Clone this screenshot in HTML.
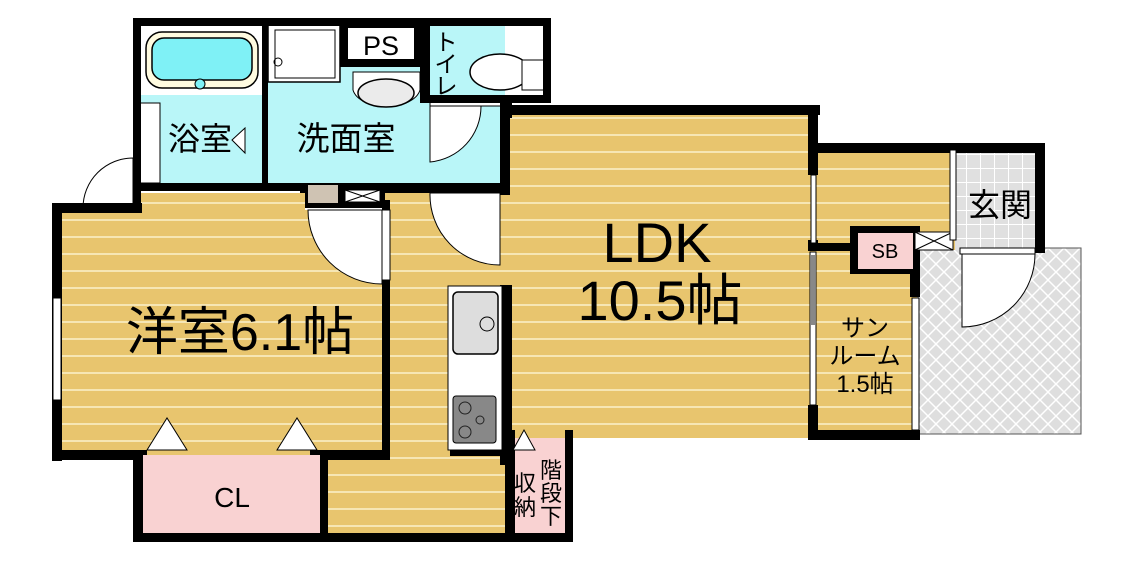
<!DOCTYPE html>
<html><head><meta charset="utf-8"><style>
html,body{margin:0;padding:0;background:#fff;width:1133px;height:563px;overflow:hidden}
svg{display:block}
text{font-family:"Liberation Sans","Noto Sans CJK JP",sans-serif;fill:#000}
</style></head><body>
<svg width="1133" height="563" viewBox="0 0 1133 563">
<defs>
<pattern id="fl" width="20" height="17" patternUnits="userSpaceOnUse">
<rect width="20" height="17" fill="#e8c56e"/><rect y="15" width="20" height="2" fill="#f6e6b4"/>
</pattern>
<pattern id="tile" width="16" height="16" patternUnits="userSpaceOnUse">
<rect width="16" height="16" fill="#dedede"/><path d="M0 0L16 16M16 0L0 16" stroke="#fff" stroke-width="1.5"/>
</pattern>
<pattern id="gt" width="14" height="14" patternUnits="userSpaceOnUse">
<rect width="14" height="14" fill="#e0e0e0"/><path d="M0 .5H14M.5 0V14" stroke="#fff" stroke-width="1"/>
</pattern>
</defs>

<rect x="918" y="248" width="163" height="186" fill="url(#tile)" stroke="#555" stroke-width="1"/>

<rect x="60" y="210" width="325" height="245" fill="url(#fl)"/>
<rect x="382" y="193" width="125" height="345" fill="url(#fl)"/>
<rect x="325" y="455" width="185" height="82" fill="url(#fl)"/>
<rect x="505" y="110" width="310" height="328" fill="url(#fl)"/>
<rect x="815" y="150" width="140" height="100" fill="url(#fl)"/>
<rect x="815" y="248" width="102" height="187" fill="url(#fl)"/>
<rect x="140" y="193" width="165" height="17" fill="url(#fl)"/>
<rect x="955" y="150" width="85" height="100" fill="url(#gt)"/>
<rect x="140" y="25" width="365" height="163" fill="#b9f6f8"/>
<rect x="140" y="25" width="125" height="70" fill="#fff"/>
<rect x="268" y="25" width="72" height="57" fill="#fff" stroke="#000" stroke-width="1.5"/>
<rect x="146" y="32" width="112" height="56" rx="16" fill="#fffbe0" stroke="#000" stroke-width="1.5"/>
<rect x="152" y="38" width="100" height="42" rx="12" fill="#7ff1f6" stroke="#000" stroke-width="1.5"/>
<circle cx="200" cy="84" r="5" fill="#7ff1f6" stroke="#000"/>
<rect x="140" y="103" width="20" height="80" fill="#fff" stroke="#000" stroke-width="1"/>
<rect x="275" y="30" width="60" height="48" fill="#fff" stroke="#000"/>
<circle cx="278" cy="62" r="4" fill="none" stroke="#000"/>
<rect x="340" y="22" width="80" height="45" fill="#000"/>
<rect x="348" y="28" width="66" height="31" fill="#fff"/>
<text x="381" y="55" font-size="27" text-anchor="middle">PS</text>
<path d="M353 72 H420 V90 A34 20 0 0 1 353 90Z" fill="#fff" stroke="#000"/>
<ellipse cx="386" cy="93" rx="28" ry="14" fill="#ebebeb" stroke="#000" stroke-width="1.5"/>
<rect x="420" y="22" width="10" height="78" fill="#000"/>
<rect x="430" y="100" width="75" height="6" fill="#fff" stroke="#000"/>
<ellipse cx="500" cy="72" rx="30" ry="18" fill="#fff" stroke="#000" stroke-width="1.5"/>
<rect x="522" y="60" width="22" height="30" fill="#fff" stroke="#000"/>
<path d="M430 106 V162 A56 56 0 0 0 481 106Z" fill="#fff" stroke="#000"/>
<g fill="#000">
<rect x="133" y="18" width="418" height="8"/>
<rect x="133" y="18" width="8" height="195"/>
<rect x="543" y="18" width="8" height="82"/>
<rect x="262" y="18" width="6" height="165"/>
<rect x="420" y="95" width="131" height="8"/>
<rect x="500" y="100" width="10" height="95"/>
<rect x="133" y="183" width="175" height="8"/>
<rect x="300" y="183" width="210" height="10"/>
<rect x="305" y="190" width="80" height="18"/>
</g>
<rect x="308" y="185" width="30" height="18" fill="#cfc3b3"/>
<rect x="345" y="190" width="35" height="12" fill="#fff" stroke="#000"/>
<path d="M345 190L380 202M380 190L345 202" stroke="#000"/>
<path d="M232 140L245 128V153Z" fill="#fff" stroke="#000"/>
<path d="M133 158 A50 50 0 0 0 83 208 H133Z" fill="#fff" stroke="#000"/>

<g fill="#000">
<rect x="52" y="203" width="90" height="10"/>
<rect x="52" y="203" width="10" height="258"/>
<rect x="52" y="450" width="95" height="10"/>
<rect x="310" y="450" width="80" height="10"/>
<rect x="382" y="200" width="8" height="260"/>
<rect x="133" y="450" width="10" height="92"/>
<rect x="320" y="450" width="8" height="92"/>
<rect x="133" y="533" width="440" height="9"/>
</g>
<rect x="53" y="298" width="8" height="102" fill="#fff" stroke="#000"/>
<rect x="143" y="455" width="177" height="78" fill="#f9d2d2"/>
<path d="M147 450L167 418L187 450Z M277 450L297 418L317 450Z" fill="#fff" stroke="#000"/>
<rect x="382" y="210" width="8" height="70" fill="#fff" stroke="#000"/>
<path d="M382 210 H308 A74 74 0 0 0 382 284Z" fill="#fff" stroke="#000"/>
<path d="M430 193 H500 V265 A70 70 0 0 1 430 193Z" fill="#fff" stroke="#000"/>

<g fill="#000">
<rect x="505" y="105" width="315" height="10"/>
<rect x="500" y="100" width="12" height="18"/>
<rect x="500" y="285" width="12" height="180"/>
<rect x="808" y="105" width="10" height="70"/>
<rect x="808" y="143" width="237" height="10"/>
<rect x="1035" y="143" width="10" height="110"/>
<rect x="808" y="240" width="10" height="10"/>
<rect x="808" y="405" width="10" height="35"/>
<rect x="808" y="243" width="110" height="8"/>
<rect x="850" y="226" width="70" height="48"/>
<rect x="910" y="245" width="10" height="52"/>
<rect x="808" y="430" width="112" height="10"/>
<rect x="450" y="448" width="60" height="8"/>
<rect x="505" y="430" width="10" height="112"/>
<rect x="565" y="430" width="8" height="112"/>
</g>
<rect x="811" y="175" width="5" height="68" fill="#fff" stroke="#000"/>
<rect x="810" y="252" width="6" height="153" fill="#fff" stroke="#000"/>
<rect x="811" y="255" width="4" height="70" fill="#888"/>
<rect x="912" y="298" width="7" height="132" fill="#fff" stroke="#000"/>
<rect x="858" y="233" width="55" height="36" fill="#f9d2d2"/>
<rect x="915" y="232" width="38" height="18" fill="#fff" stroke="#000"/>
<path d="M915 232L953 250M953 232L915 250" stroke="#000"/>
<rect x="950" y="150" width="6" height="90" fill="#fff" stroke="#000"/>
<rect x="960" y="248" width="75" height="6" fill="#fff" stroke="#000"/>
<path d="M962 254 V327 A73 73 0 0 0 1035 254Z" fill="#fff" stroke="#000"/>
<rect x="515" y="438" width="50" height="95" fill="#f9d2d2"/>
<path d="M513 450L524 430L535 450Z" fill="#fff" stroke="#000"/>

<rect x="448" y="286" width="54" height="164" fill="#fff" stroke="#000"/>
<rect x="453" y="292" width="45" height="62" rx="5" fill="#ddd" stroke="#000" stroke-width="1.5"/>
<circle cx="487" cy="324" r="7" fill="#ddd" stroke="#000"/>
<rect x="453" y="396" width="43" height="47" rx="3" fill="#888" stroke="#000"/>
<circle cx="465" cy="408" r="6" fill="none" stroke="#222"/>
<circle cx="465" cy="432" r="6" fill="none" stroke="#222"/>
<circle cx="480" cy="420" r="4" fill="none" stroke="#222"/>

<text x="200" y="150" font-size="32" text-anchor="middle">浴室</text>
<text x="346" y="150" font-size="33" text-anchor="middle">洗面室</text>
<text x="446" y="50" font-size="23" text-anchor="middle">ト</text>
<text x="446" y="72" font-size="23" text-anchor="middle">イ</text>
<text x="446" y="94" font-size="23" text-anchor="middle">レ</text>
<text x="240" y="350" font-size="52" text-anchor="middle">洋室6.1帖</text>
<text x="657" y="262" font-size="56" text-anchor="middle">LDK</text>
<text x="660" y="320" font-size="56" text-anchor="middle">10.5帖</text>
<text x="1000" y="216" font-size="32" text-anchor="middle">玄関</text>
<text x="885" y="258" font-size="20" text-anchor="middle">SB</text>
<text x="865" y="336" font-size="24" text-anchor="middle">サン</text>
<text x="865" y="364" font-size="24" text-anchor="middle">ルーム</text>
<text x="865" y="392" font-size="24" text-anchor="middle">1.5帖</text>
<text x="232" y="507" font-size="28" text-anchor="middle">CL</text>
<text x="551" y="478" font-size="22" text-anchor="middle">階</text>
<text x="551" y="501" font-size="22" text-anchor="middle">段</text>
<text x="551" y="524" font-size="22" text-anchor="middle">下</text>
<text x="525" y="491" font-size="22" text-anchor="middle">収</text>
<text x="525" y="515" font-size="22" text-anchor="middle">納</text>
</svg>
</body></html>
